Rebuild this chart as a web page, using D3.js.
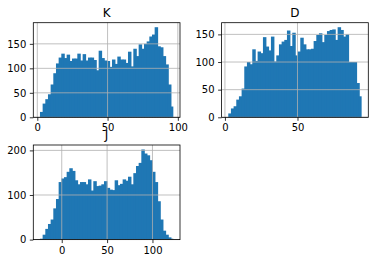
<!DOCTYPE html>
<html lang="en">
<head>
<meta charset="UTF-8">
<title>hist</title>
<script src="https://cdn.jsdelivr.net/npm/d3@7"></script>
<style>
  body{margin:0;background:#fff}
  svg{display:block;font-family:"DejaVu Sans",sans-serif}
</style>
</head>
<body>
<svg id="chart" width="375" height="264"></svg>
<script>
// bin counts, 50 bins each
const kCounts=[11,28,37,47,67,90,110,122,130,121,128,115,120,120,130,116,129,116,122,122,
               117,96,136,121,116,115,103,118,109,124,118,118,111,134,104,140,125,149,140,150,
               155,165,169,184,145,143,125,108,67,22]
const kRange=[1.9,96.8]

const dCounts=[7,16,20,32,38,52,92,100,96,123,102,119,116,145,128,121,146,101,112,132,
               137,140,157,129,153,112,119,144,132,123,123,124,138,149,152,136,149,156,158,159,
               140,163,158,146,150,100,100,100,62,38]
const dRange=[2.3,94.2]

const jCounts=[2,11,24,35,45,70,91,129,137,140,152,160,154,133,124,129,129,124,135,110,
               131,120,121,124,131,116,112,111,133,122,125,135,132,141,124,149,165,172,202,193,
               189,178,152,129,86,45,20,11,5,2]
const jRange=[-24,123]

const titles=["K","D","J"]
const xTicks=[[0,50,100],[0,50],[0,50,100]]
const yTicks=[[0,50,100,150],[0,50,100,150],[0,100,200]]

const W=146.7, H=94.6
const spots=[[33.3,22.7],[221.6,22.7],[33.3,145]]
const svg=d3.select("#chart")

function drawHist(i,counts,range){
    let g=svg.append("g").attr("transform","translate("+spots[i][0]+","+spots[i][1]+")")
    let r=range[1]-range[0]
    let x=d3.scaleLinear().domain([range[0]-0.05*r,range[1]+0.05*r]).range([0,W])
    let y=d3.scaleLinear().domain([0,d3.max(counts)*1.05]).range([H,0])
    let bw=r/counts.length
    let n=counts.length

    // small overlap so no seams show between neighbouring bars
    g.selectAll("rect.bar").data(counts).enter()
     .append("rect").attr("class","bar")
     .attr("x",(d,j)=>x(range[0]+j*bw))
     .attr("width",(d,j)=>x(range[0]+(j+1)*bw)-x(range[0]+j*bw)+(j<n-1?0.8:0))
     .attr("y",d=>y(d))
     .attr("height",d=>H-y(d))
     .attr("fill","#1f77b4")

    // grid over the bars, like matplotlib
    g.selectAll("line.gx").data(xTicks[i]).enter()
     .append("line").attr("x1",d=>x(d)).attr("x2",d=>x(d)).attr("y1",0).attr("y2",H)
     .attr("stroke","#b0b0b0").attr("stroke-width",0.8)
    g.selectAll("line.gy").data(yTicks[i]).enter()
     .append("line").attr("x1",0).attr("x2",W).attr("y1",d=>y(d)).attr("y2",d=>y(d))
     .attr("stroke","#b0b0b0").attr("stroke-width",0.8)

    let xa=g.append("g").attr("transform","translate(0,"+H+")")
     .call(d3.axisBottom(x).tickValues(xTicks[i]).tickSize(3.5).tickPadding(3.5))
    let ya=g.append("g")
     .call(d3.axisLeft(y).tickValues(yTicks[i]).tickSize(3.5).tickPadding(3.5))
    for(let a of [xa,ya]){
        a.select(".domain").remove()
        a.selectAll("line").attr("stroke","#000").attr("stroke-width",0.8)
        a.selectAll("text").attr("font-size",10).attr("fill","#000")
         .attr("font-family","DejaVu Sans")
    }

    g.append("rect").attr("width",W).attr("height",H)
     .attr("fill","none").attr("stroke","#000").attr("stroke-width",0.8)

    g.append("text").attr("x",W/2).attr("y",-6).attr("text-anchor","middle")
     .attr("font-size",12).text(titles[i])
}

drawHist(0,kCounts,kRange)
drawHist(1,dCounts,dRange)
drawHist(2,jCounts,jRange)
</script>
</body>
</html>
